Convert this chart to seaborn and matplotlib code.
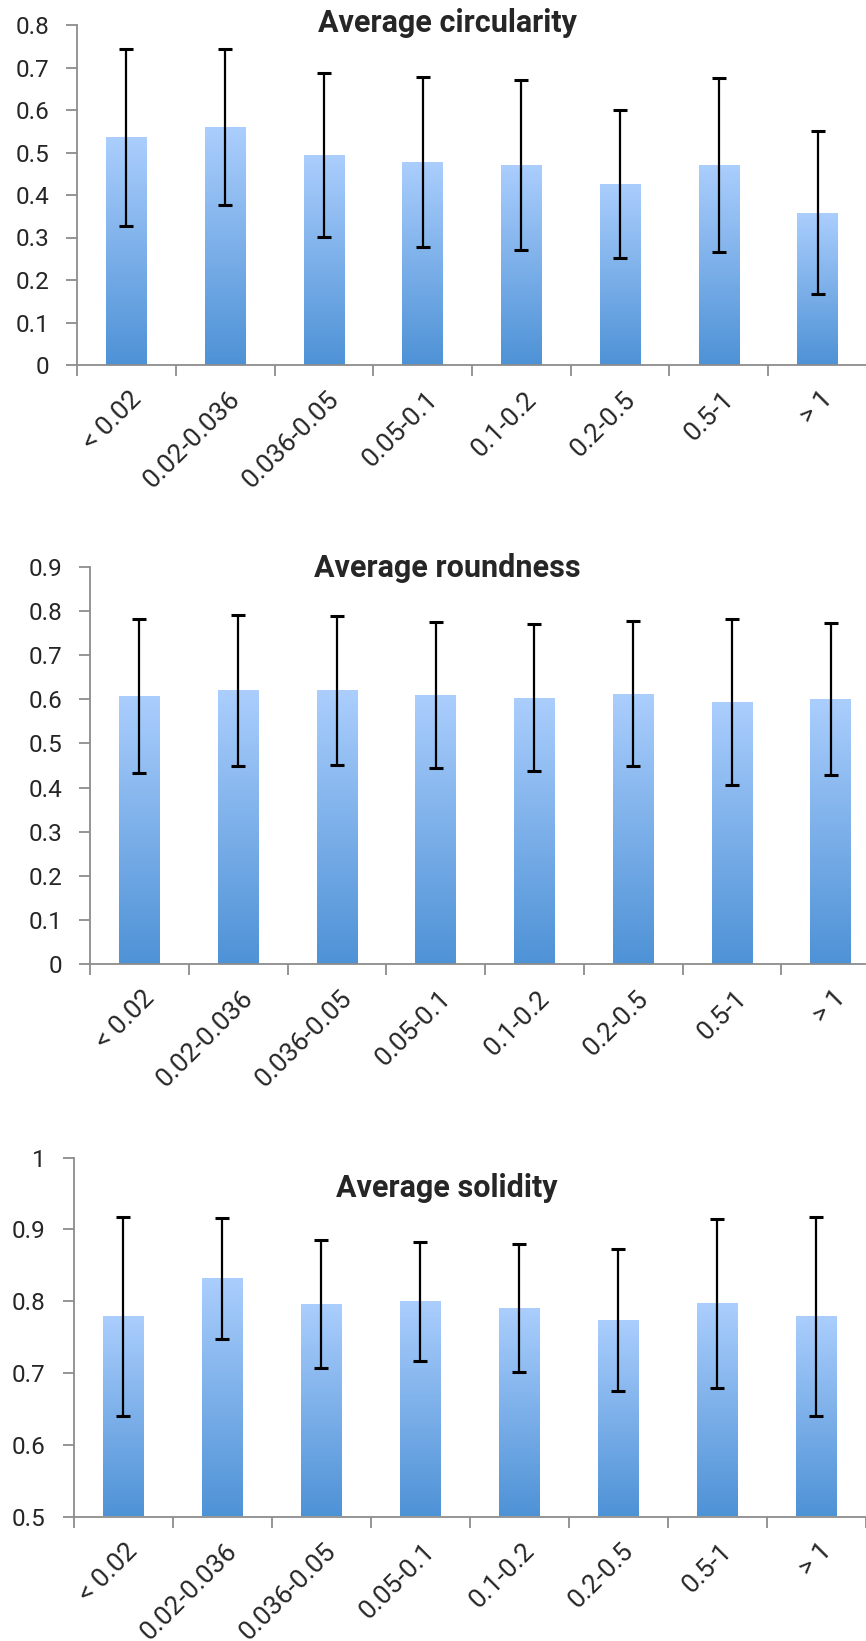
import numpy as np
import pandas as pd
import matplotlib
matplotlib.use("Agg")
import matplotlib.pyplot as plt
import matplotlib.transforms as mtransforms
import seaborn as sns
from matplotlib.colors import LinearSegmentedColormap
from matplotlib.ticker import FixedLocator, NullFormatter

# size classes shared by all three panels
categories = ["< 0.02", "0.02-0.036", "0.036-0.05", "0.05-0.1",
              "0.1-0.2", "0.2-0.5", "0.5-1", "> 1"]

circularity_mean = [0.536, 0.560, 0.494, 0.478, 0.471, 0.426, 0.471, 0.358]
circularity_sd = [0.208, 0.184, 0.193, 0.200, 0.200, 0.175, 0.204, 0.192]

roundness_mean = [0.608, 0.621, 0.621, 0.610, 0.604, 0.613, 0.594, 0.601]
roundness_sd = [0.174, 0.171, 0.169, 0.166, 0.167, 0.165, 0.189, 0.172]

solidity_mean = [0.779, 0.832, 0.796, 0.800, 0.791, 0.774, 0.797, 0.779]
solidity_sd = [0.139, 0.084, 0.089, 0.083, 0.089, 0.099, 0.118, 0.139]

TOP_BLUE = "#abcefd"
BOTTOM_BLUE = "#4e92d6"
AXIS_GREY = "#8c8c8c"

sns.set_style("white")
plt.rcParams["font.family"] = ["Roboto", "DejaVu Sans"]


def gradient_bars(ax, baseline):
    cmap = LinearSegmentedColormap.from_list("bar", [BOTTOM_BLUE, TOP_BLUE])
    grad = np.linspace(0, 1, 256).reshape(-1, 1)
    for patch in list(ax.patches):
        x, y = patch.get_xy()
        w, h = patch.get_width(), patch.get_height()
        y0 = max(y, baseline)
        im = ax.imshow(grad, cmap=cmap, origin="lower", aspect="auto",
                       extent=[x, x + w, y0, y + h], zorder=1.5,
                       interpolation="bilinear")
        im.set_clip_path(patch)
        patch.set_facecolor("none")
        patch.set_edgecolor("none")


def draw_panel(rect, means, sds, ylim, step, title, title_y):
    ax = fig.add_axes(rect)
    df = pd.DataFrame({"size": categories, "value": means})
    sns.barplot(data=df, x="size", y="value", color=BOTTOM_BLUE,
                width=0.41, errorbar=None, ax=ax)
    gradient_bars(ax, ylim[0])
    ax.errorbar(np.arange(len(categories)), means, yerr=sds, fmt="none",
                ecolor="black", elinewidth=1.6, capsize=5, capthick=2.2,
                zorder=3)

    ax.set_xlim(-0.5, len(categories) - 0.5)
    ax.set_ylim(*ylim)
    ax.set_yticks(np.round(np.arange(ylim[0], ylim[1] + step / 2, step), 2))
    ax.set_yticklabels([f"{v:g}" for v in ax.get_yticks()])
    ax.set_xlabel("")
    ax.set_ylabel("")

    for side in ("top", "right"):
        ax.spines[side].set_visible(False)
    for side in ("left", "bottom"):
        ax.spines[side].set_color(AXIS_GREY)
        ax.spines[side].set_linewidth(1.3)

    # category boundaries carry the tick marks, labels sit at centres
    ax.xaxis.set_minor_locator(FixedLocator(np.arange(-0.5, len(categories), 1.0)))
    ax.xaxis.set_minor_formatter(NullFormatter())
    ax.tick_params(axis="x", which="minor", direction="out", length=8,
                   width=1.3, color=AXIS_GREY, bottom=True)
    ax.tick_params(axis="x", which="major", length=0, pad=22, labelsize=19)
    ax.tick_params(axis="y", direction="out", length=8, width=1.3,
                   color=AXIS_GREY, left=True, pad=12, labelsize=17.5)
    shift = mtransforms.ScaledTranslation(11 / 100, 0, fig.dpi_scale_trans)
    for lab in ax.get_xticklabels():
        lab.set_rotation(45)
        lab.set_ha("right")
        lab.set_va("center")
        lab.set_rotation_mode("anchor")
        lab.set_transform(lab.get_transform() + shift)

    fig.text(447 / 866, title_y, title, ha="center", va="center",
             fontsize=22, fontweight="bold")
    return ax


fig = plt.figure(figsize=(8.66, 16.41), dpi=100)

draw_panel([77 / 866, 1 - 365 / 1641, 790 / 866, 340 / 1641],
           circularity_mean, circularity_sd, (0, 0.8), 0.1,
           "Average circularity", 1 - 23 / 1641)
draw_panel([90 / 866, 1 - 964 / 1641, 790 / 866, 397 / 1641],
           roundness_mean, roundness_sd, (0, 0.9), 0.1,
           "Average roundness", 1 - 568 / 1641)
draw_panel([73.5 / 866, 1 - 1516.5 / 1641, 792.5 / 866, 358.8 / 1641],
           solidity_mean, solidity_sd, (0.5, 1.0), 0.1,
           "Average solidity", 1 - 1188 / 1641)

fig.savefig("out.png", dpi=100)
plt.close(fig)
